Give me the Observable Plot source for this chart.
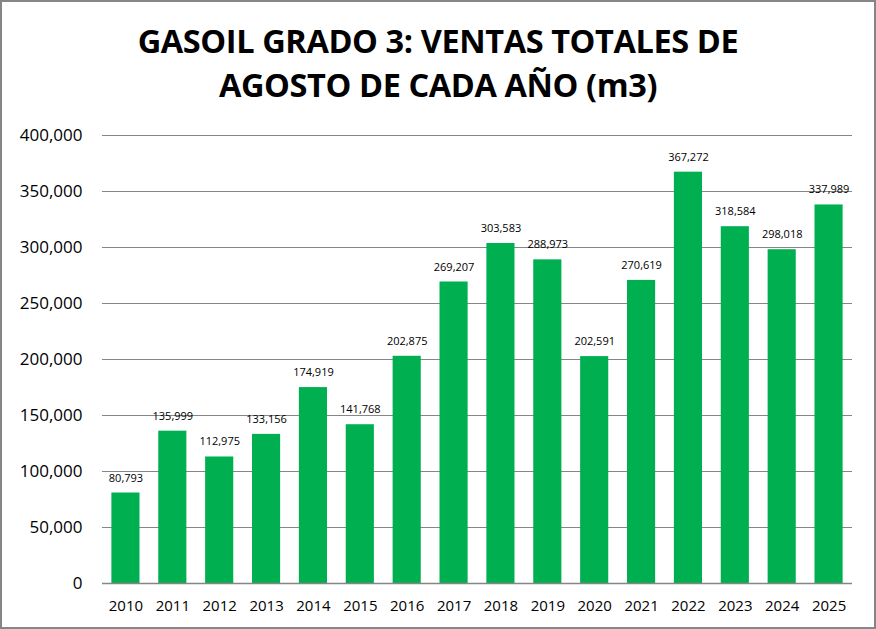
<!DOCTYPE html>
<html><head><meta charset="utf-8">
<script src="https://cdn.jsdelivr.net/npm/d3@7"></script>
<script src="https://cdn.jsdelivr.net/npm/@observablehq/plot@0.6"></script>
<style>
html,body{margin:0;padding:0;background:#fff;}
#frame{width:876px;height:629px;box-sizing:border-box;border:2px solid #868686;overflow:hidden;}
#title{height:115px;box-sizing:border-box;padding-top:17px;text-align:center;font-family:"Open Sans",sans-serif;font-weight:bold;font-size:32.5px;line-height:44px;color:#000;letter-spacing:-0.4px;}
</style></head>
<body>
<div id="frame">
<div id="title">GASOIL GRADO 3: VENTAS TOTALES DE<br>AGOSTO DE CADA AÑO (m3)</div>
<div id="chart"></div>
</div>
<script>
const years = ["2010","2011","2012","2013","2014","2015","2016","2017","2018","2019","2020","2021","2022","2023","2024","2025"];
const sales = [80793,135999,112975,133156,174919,141768,202875,269207,303583,288973,202591,270619,367272,318584,298018,337989];
const yTicks = [0,50000,100000,150000,200000,250000,300000,350000,400000];

const data = years.map((y,i)=>({year:y, value:sales[i]}));
const fmt = d3.format(",");
const chart = Plot.plot({
  width: 872,
  height: 510,
  marginTop: 18,
  marginBottom: 44,
  marginLeft: 100,
  marginRight: 22,
  style: {fontFamily: "'Open Sans', sans-serif", background: "#fff"},
  x: {domain: years, paddingInner: 0.4, paddingOuter: 0.2, round: false, label: null},
  y: {domain: [0,400000], label: null},
  marks: [
    Plot.gridY(yTicks, {stroke: "#868686", strokeOpacity: 1, strokeWidth: 1}),
    Plot.axisY(yTicks, {tickSize: 0, tickPadding: 20, tickFormat: fmt, fontSize: 17, fill: "#000", label: null}),
    Plot.axisX({tickSize: 0, tickPadding: 17, fontSize: 15, fill: "#000", label: null}),
    Plot.barY(data, {x: "year", y: "value", fill: "#00B050"}),
    Plot.ruleY([0], {stroke: "#868686", strokeWidth: 1.5}),
    Plot.text(data, {x: "year", y: "value", text: d => fmt(d.value), dy: -15, fontSize: 11, fill: "#000"})
  ]
});
document.getElementById("chart").appendChild(chart);
</script>
</body></html>
